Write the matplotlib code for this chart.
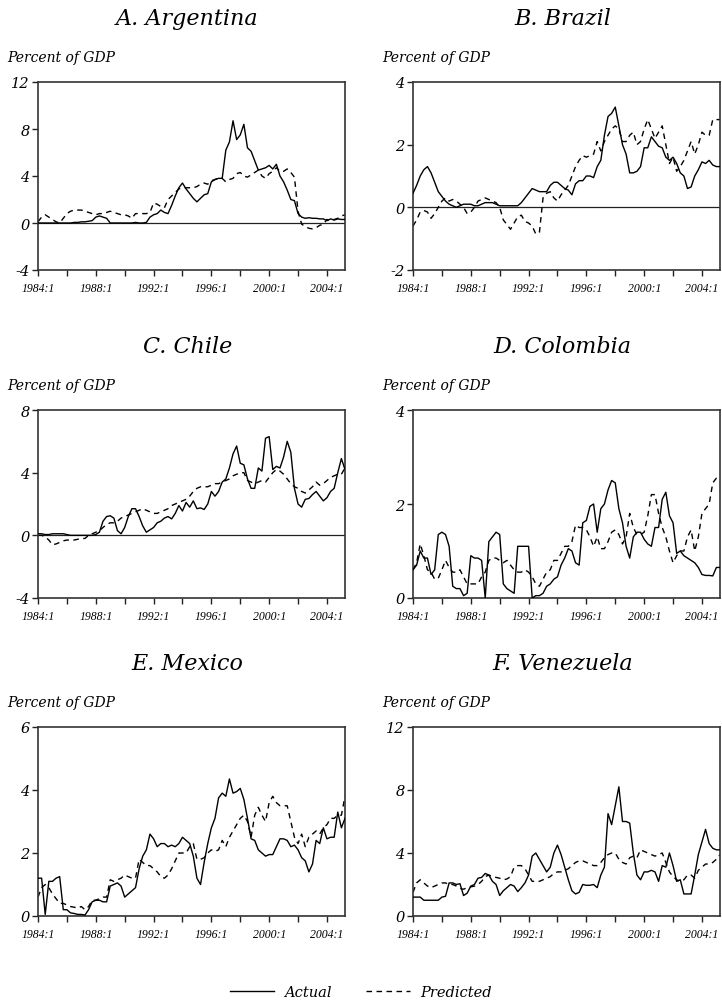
import numpy as np
import matplotlib.pyplot as plt
from matplotlib.lines import Line2D

plt.rcParams['font.family'] = ['DejaVu Serif']
plt.rcParams['font.style'] = 'italic'
plt.rcParams['axes.unicode_minus'] = False

# quarterly observations, 1984:1 .. 2005:2
quarters = 1984 + np.arange(86) / 4.0

# A. Argentina
arg_actual = [0, 0, 0, 0, 0, 0, 0, 0,
              0, 0, 0.05, 0.05, 0.1, 0.1, 0.15, 0.2,
              0.5, 0.6, 0.5, 0.4, 0, 0, 0, 0,
              0, 0, 0, 0.05, 0, 0, 0.05, 0.5,
              0.7, 0.8, 1.1, 0.9, 0.8, 1.5, 2.3, 3.0,
              3.4, 2.9, 2.5, 2.1, 1.8, 2.1, 2.4, 2.5,
              3.5, 3.7, 3.8, 3.8, 6.2, 6.9, 8.7, 7.1,
              7.5, 8.4, 6.4, 6.1, 5.3, 4.5, 4.6, 4.7,
              4.9, 4.6, 5.0, 4.0, 3.5, 2.8, 2.0, 1.9,
              0.8, 0.5, 0.4, 0.45, 0.4, 0.4, 0.35, 0.35,
              0.2, 0.35, 0.25, 0.35, 0.3, 0.3]
arg_pred = [0.1, 0.5, 0.7, 0.5, 0.3, 0.1, 0.0, 0.4,
            0.8, 1.0, 1.1, 1.1, 1.1, 1.0, 0.9, 0.8,
            0.7, 0.8, 0.8, 0.9, 1.0, 0.9, 0.8, 0.7,
            0.7, 0.6, 0.4, 0.8, 0.8, 0.8, 0.8, 0.9,
            1.7, 1.6, 1.4, 1.3, 2.0, 2.3, 2.6, 2.9,
            3.0, 3.0, 3.0, 3.0, 3.1, 3.3, 3.4, 3.3,
            3.6, 3.7, 3.8, 3.8, 3.5, 3.7, 3.8, 4.2,
            4.3, 4.0, 3.9, 4.1, 4.3, 4.5, 4.0, 3.8,
            4.2, 4.4, 4.7, 4.4, 4.4, 4.6, 4.3, 3.9,
            1.0, -0.1, -0.3, -0.45, -0.5, -0.4, -0.2, -0.1,
            0.3, 0.2, 0.3, 0.4, 0.6, 0.7]

# B. Brazil
bra_actual = [0.45, 0.7, 1.0, 1.2, 1.3, 1.1, 0.8, 0.5,
              0.35, 0.2, 0.1, 0.05, 0.0, 0.05, 0.1, 0.1,
              0.1, 0.05, 0.05, 0.1, 0.15, 0.15, 0.15, 0.1,
              0.05, 0.05, 0.05, 0.05, 0.05, 0.05, 0.15, 0.3,
              0.45, 0.6, 0.55, 0.5, 0.5, 0.5, 0.7, 0.8,
              0.8, 0.7, 0.6, 0.55, 0.4, 0.75, 0.85, 0.85,
              1.0, 1.0, 0.95, 1.3, 1.5, 2.3, 2.9, 3.0,
              3.2, 2.6, 2.0, 1.7, 1.1, 1.1, 1.15, 1.3,
              1.9, 1.9, 2.25, 2.1, 1.95, 1.9, 1.6, 1.5,
              1.6, 1.4, 1.1, 1.0, 0.6, 0.65, 1.0, 1.2,
              1.45, 1.4, 1.5, 1.35, 1.3, 1.3]
bra_pred = [-0.6, -0.4, -0.15, -0.1, -0.15, -0.35, -0.2, 0.0,
            0.2, 0.3, 0.2, 0.25, 0.2, 0.1, 0.0, -0.2,
            -0.15, 0.0, 0.2, 0.25, 0.3, 0.25, 0.2, 0.15,
            0.0, -0.4, -0.55, -0.7, -0.5, -0.3, -0.25, -0.45,
            -0.5, -0.6, -0.85, -0.8, 0.3, 0.45, 0.5, 0.3,
            0.2, 0.4, 0.55, 0.7, 1.0, 1.3, 1.5, 1.65,
            1.6, 1.65, 1.7, 2.1, 1.8, 2.1, 2.3, 2.5,
            2.6, 2.5, 2.1, 2.1, 2.3, 2.4, 2.0, 2.1,
            2.5, 2.8, 2.5, 2.2, 2.4, 2.6, 2.0, 1.4,
            1.6, 1.15, 1.3, 1.5, 1.8, 2.1, 1.7, 2.0,
            2.4, 2.3, 2.3, 2.8, 2.8, 2.8]

# C. Chile
chl_actual = [0.1, 0.1, 0.05, 0.05, 0.1, 0.1, 0.1, 0.1,
              0.05, 0.0, 0.0, 0.0, 0.0, 0.0, 0.0, 0.0,
              0.05, 0.2, 0.9, 1.2, 1.25, 1.1, 0.3, 0.1,
              0.5, 1.2, 1.7, 1.7, 1.2, 0.6, 0.2, 0.35,
              0.5, 0.8, 0.9, 1.1, 1.2, 1.05, 1.4, 1.9,
              1.55, 2.1, 1.8, 2.2, 1.7, 1.75, 1.65, 2.0,
              2.8, 2.5, 2.8, 3.4, 3.6, 4.3, 5.2, 5.7,
              4.6, 4.5, 3.6, 3.0, 3.0, 4.3, 4.1, 6.2,
              6.3, 4.2, 4.4, 4.3, 5.0, 6.0, 5.3, 3.0,
              2.0, 1.8, 2.3, 2.35, 2.6, 2.8, 2.5, 2.2,
              2.4, 2.8, 3.0, 4.0, 4.9, 4.2]
chl_pred = [0.0, 0.0, -0.1, -0.3, -0.6, -0.55, -0.45, -0.35,
            -0.3, -0.3, -0.3, -0.25, -0.2, -0.2, 0.0, 0.1,
            0.2, 0.3, 0.5, 0.7, 0.8, 0.8, 0.9, 1.1,
            1.2, 1.3, 1.4, 1.5, 1.6, 1.7, 1.6, 1.5,
            1.4, 1.4, 1.5, 1.6, 1.7, 1.9, 2.0, 2.1,
            2.2, 2.3, 2.5, 2.8, 3.0, 3.1, 3.1, 3.1,
            3.2, 3.3, 3.3, 3.4, 3.5, 3.6, 3.8, 3.9,
            4.0, 4.0, 3.5, 3.4, 3.3, 3.4, 3.5, 3.4,
            3.7, 4.0, 4.2, 4.1, 3.9, 3.6, 3.3, 3.1,
            3.0, 2.8, 2.7, 2.9, 3.1, 3.4, 3.2, 3.3,
            3.5, 3.7, 3.8, 3.9, 3.9, 4.3]

# D. Colombia
col_actual = [0.6, 0.7, 1.0, 0.85, 0.85, 0.5, 0.6, 1.35,
              1.4, 1.35, 1.1, 0.25, 0.2, 0.2, 0.05, 0.1,
              0.9, 0.85, 0.85, 0.8, 0.0, 1.2, 1.3, 1.4,
              1.35, 0.3, 0.2, 0.15, 0.1, 1.1, 1.1, 1.1,
              1.1, 0.0, 0.05, 0.05, 0.1, 0.25, 0.3, 0.4,
              0.45, 0.7, 0.85, 1.05, 1.0, 0.75, 0.7, 1.6,
              1.65, 1.95, 2.0, 1.4, 1.9, 2.0, 2.3, 2.5,
              2.45, 1.9, 1.6, 1.1, 0.85, 1.3, 1.4, 1.4,
              1.25, 1.15, 1.1, 1.5, 1.5, 2.1, 2.25, 1.75,
              1.6, 0.95, 1.0, 0.9, 0.85, 0.8, 0.75, 0.65,
              0.5, 0.48, 0.48, 0.47, 0.65, 0.65]
col_pred = [0.6, 0.75, 1.15, 0.9, 0.6, 0.55, 0.4, 0.42,
            0.6, 0.8, 0.65, 0.55, 0.55, 0.6, 0.45, 0.3,
            0.3, 0.3, 0.3, 0.45, 0.55, 0.8, 0.85, 0.85,
            0.8, 0.75, 0.8, 0.7, 0.6, 0.55, 0.55, 0.6,
            0.55, 0.45, 0.3, 0.25, 0.4, 0.55, 0.6, 0.8,
            0.8, 0.95, 1.1, 1.1, 1.2, 1.55, 1.5, 1.5,
            1.45, 1.3, 1.1, 1.3, 1.05, 1.05, 1.2, 1.4,
            1.45, 1.35, 1.15, 1.3, 1.8, 1.5, 1.35, 1.35,
            1.4, 1.75, 2.2, 2.2, 1.8, 1.5, 1.3, 1.0,
            0.75, 0.9, 1.0, 1.0, 1.3, 1.45, 1.0, 1.3,
            1.8, 1.9, 2.0, 2.45, 2.55, 2.6]

# E. Mexico
mex_actual = [1.2, 1.2, 0.05, 1.1, 1.1, 1.2, 1.25, 0.2,
              0.2, 0.1, 0.08, 0.05, 0.05, 0.03, 0.2, 0.45,
              0.5, 0.5, 0.45, 0.45, 0.95, 1.0, 1.05, 0.95,
              0.6, 0.7, 0.8, 0.9, 1.5, 1.9, 2.1, 2.6,
              2.45, 2.2, 2.3, 2.3, 2.2, 2.25, 2.2, 2.3,
              2.5, 2.4, 2.3, 1.9, 1.2, 1.0, 1.7, 2.3,
              2.8, 3.1, 3.75, 3.9, 3.8, 4.35, 3.9, 3.95,
              4.05, 3.7, 3.1, 2.45, 2.4, 2.1, 2.0, 1.9,
              1.95, 1.95, 2.2, 2.45, 2.45, 2.4, 2.2, 2.25,
              2.1, 1.85, 1.75, 1.4, 1.65, 2.4, 2.3, 2.8,
              2.45, 2.5, 2.5, 3.3, 2.8, 3.1]
mex_pred = [0.6, 0.9, 1.0, 0.9, 0.7, 0.55, 0.4, 0.4,
            0.35, 0.3, 0.28, 0.25, 0.3, 0.2, 0.3, 0.5,
            0.5, 0.55, 0.6, 0.6, 1.15, 1.1, 1.15, 1.2,
            1.3, 1.25, 1.2, 1.2, 1.8, 1.7, 1.6, 1.6,
            1.5, 1.4, 1.25, 1.2, 1.3, 1.5, 1.75, 2.0,
            2.0, 2.0, 2.2, 2.3, 1.8, 1.8, 1.85, 2.0,
            2.1, 2.05, 2.1, 2.4, 2.2, 2.5, 2.7, 2.9,
            3.1, 3.2, 3.0, 2.5, 3.2, 3.45, 3.2, 3.0,
            3.6, 3.8, 3.6, 3.5, 3.5, 3.5, 3.0, 2.5,
            2.3, 2.6, 2.2, 2.5, 2.6, 2.7, 2.6, 2.8,
            2.9, 3.1, 3.1, 3.2, 3.2, 3.8]

# F. Venezuela
ven_actual = [1.2, 1.2, 1.2, 1.0, 1.0, 1.0, 1.0, 1.0,
              1.2, 1.25, 2.1, 2.1, 2.0, 2.05, 1.3, 1.45,
              1.9, 2.0, 2.4, 2.45, 2.7, 2.6, 2.2, 2.0,
              1.3, 1.6, 1.8, 2.0, 1.9, 1.55, 1.8, 2.1,
              2.6, 3.8, 4.0, 3.6, 3.2, 2.8, 3.1, 4.0,
              4.5, 3.9, 3.1, 2.3, 1.6, 1.4, 1.5, 2.0,
              1.95, 1.95, 2.0, 1.8, 2.6, 3.1, 6.5, 5.8,
              7.0, 8.2, 6.0, 6.0, 5.9, 4.0, 2.6, 2.3,
              2.8, 2.8, 2.9, 2.8, 2.2, 3.2, 3.1, 4.0,
              3.2, 2.2, 2.3, 1.4, 1.4, 1.4, 2.6, 3.9,
              4.7, 5.5, 4.6, 4.3, 4.2, 4.2]
ven_pred = [1.5, 2.1, 2.3, 2.1, 1.9, 1.8, 1.9, 2.0,
            2.1, 2.1, 2.0, 2.0, 1.9, 1.75, 1.7, 1.8,
            1.85, 1.9, 2.0, 2.2, 2.5, 2.6, 2.5, 2.45,
            2.4, 2.3, 2.35, 2.5, 3.1, 3.2, 3.2, 3.0,
            2.6, 2.2, 2.2, 2.2, 2.3, 2.4, 2.5, 2.7,
            2.8, 2.8, 2.9, 3.0, 3.2, 3.4, 3.5, 3.5,
            3.4, 3.3, 3.2, 3.2, 3.4, 3.7, 3.9, 4.0,
            4.0, 3.6, 3.4, 3.3, 3.7, 3.8, 3.7, 4.2,
            4.1, 4.0, 3.9, 3.8, 3.9, 4.0, 3.4, 2.8,
            2.5, 2.3, 2.2, 2.3, 2.6, 2.6, 2.4, 2.9,
            3.1, 3.3, 3.3, 3.4, 3.6, 3.9]

panel_titles = ['A. Argentina', 'B. Brazil', 'C. Chile',
                'D. Colombia', 'E. Mexico', 'F. Venezuela']
panel_actual = [arg_actual, bra_actual, chl_actual, col_actual, mex_actual, ven_actual]
panel_pred = [arg_pred, bra_pred, chl_pred, col_pred, mex_pred, ven_pred]
panel_yticks = [[-4, 0, 4, 8, 12], [-2, 0, 2, 4], [-4, 0, 4, 8],
                [0, 2, 4], [0, 2, 4, 6], [0, 4, 8, 12]]

year_ticks = list(range(1984, 2005, 2))
year_labels = [f'{y}:1' if (y - 1984) % 4 == 0 else '' for y in year_ticks]

W, H = 722, 1003
# axes boxes in pixels: left, top, right, bottom
boxes = [(38, 83, 345, 271), (413, 83, 720, 271),
         (38, 411, 345, 599), (413, 411, 720, 599),
         (38, 728, 345, 917), (413, 728, 720, 917)]

DASH = (4.0, 3.2)
INK = '#222222'

fig = plt.figure(figsize=(W / 100, H / 100), dpi=100)

for i in range(6):
    left, top, right, bottom = boxes[i]
    ax = fig.add_axes([left / W, 1 - bottom / H, (right - left) / W, (bottom - top) / H])

    ax.axhline(0, color=INK, linewidth=0.9, zorder=1)
    ax.plot(quarters, panel_actual[i], color='black', linewidth=1.0, zorder=3)
    ax.plot(quarters, panel_pred[i], color='black', linewidth=1.0,
            dashes=DASH, zorder=2)

    yt = panel_yticks[i]
    ax.set_ylim(yt[0], yt[-1])
    ax.set_yticks(yt)
    ax.set_yticklabels([str(v) for v in yt], fontsize=10.5)
    ax.set_xlim(1984, 2005.25)
    ax.set_xticks(year_ticks)
    ax.set_xticklabels(year_labels, fontsize=8.5, family='Liberation Serif',
                       style='italic')

    ax.tick_params(axis='both', direction='out', length=4, width=1.0, color=INK)
    ax.tick_params(axis='y', pad=2)
    ax.tick_params(axis='x', pad=5)
    for sp in ax.spines.values():
        sp.set_color('#333333')
        sp.set_linewidth(1.2)

    # panel title and unit label
    fig.text(((left + right) / 2 - 4) / W, 1 - (top - 64) / H, panel_titles[i],
             ha='center', va='center', fontsize=16)
    fig.text((left - 31) / W, 1 - (top - 21) / H, 'Percent of GDP',
             ha='left', va='baseline', fontsize=10)

# shared legend at the bottom
handles = [Line2D([], [], color='black', linewidth=1.0),
           Line2D([], [], color='black', linewidth=1.0, dashes=DASH)]
fig.legend(handles, ['Actual', 'Predicted'], loc='center',
           bbox_to_anchor=(0.5, 1 - 993 / H), ncol=2, frameon=False,
           fontsize=10.5, handlelength=3.0, handletextpad=0.7, columnspacing=2.4)

fig.savefig('out.png', dpi=100)
